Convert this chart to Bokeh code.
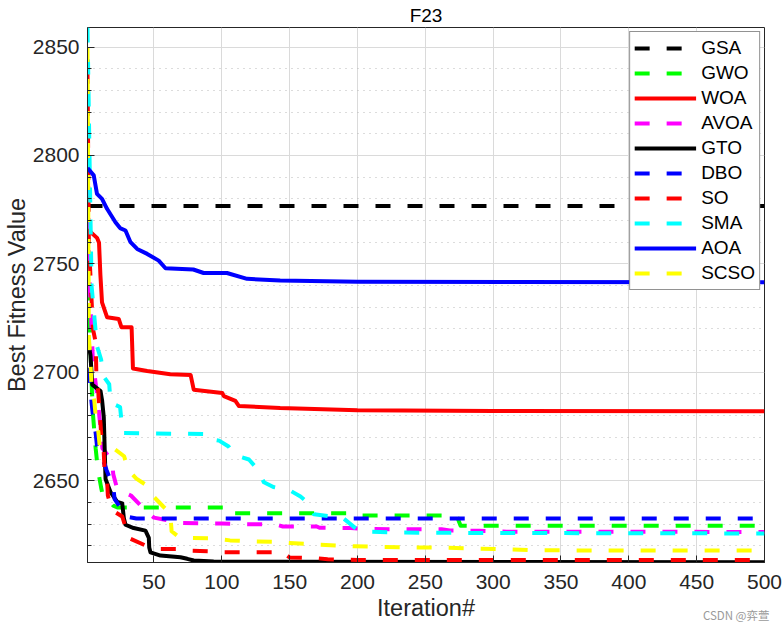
from bokeh.plotting import figure
from bokeh.models import SingleIntervalTicker, Range1d, Legend, LegendItem, Label
from bokeh.embed import file_html
from bokeh.resources import INLINE

# ---------------- data ----------------
gsa_it = [1, 500]
gsa_fit = [2776.7, 2776.7]

gwo_it = [1, 3, 4, 5, 7, 8, 9, 11, 12, 14, 20, 23, 108, 109, 200, 203, 273, 276, 500]
gwo_fit = [2740, 2716, 2695, 2681, 2665, 2659, 2654, 2647, 2644, 2643, 2638.5, 2637.7,
           2637.7, 2635, 2635, 2634, 2634, 2629.3, 2629.3]

woa_it = [1, 8, 9.5, 10.5, 11.7, 15.4, 24, 26, 33.5, 34.5, 45, 62, 77, 79.3, 100.3,
          101.5, 110, 112.5, 143, 200, 300, 500]
woa_fit = [2766, 2762, 2759.7, 2745, 2732.3, 2725.4, 2724.6, 2720.8, 2720.8, 2701.8,
           2700.6, 2699.1, 2698.8, 2692, 2690.5, 2689, 2686.8, 2684.5, 2683.5, 2682.5,
           2682.2, 2682]

avoa_it = [1, 2, 5, 8, 9, 10, 11, 12, 18, 19, 20, 23, 33, 40, 46, 50, 58, 68, 100, 115,
           140, 145, 170, 172, 195, 210, 262, 268, 290, 310, 500]
avoa_fit = [2830, 2750, 2705, 2690, 2684.5, 2678, 2672, 2665, 2660, 2659, 2653, 2646,
            2643.2, 2638.7, 2635, 2633, 2632, 2630.5, 2630.3, 2630, 2629.8, 2628.9, 2628.9,
            2628.3, 2628.2, 2627.7, 2627.6, 2627.1, 2626.9, 2626.5, 2626.4]

gto_it = [1, 3.2, 4.5, 10.6, 11.8, 13, 14.3, 18, 22.9, 26.6, 27.8, 29, 35, 43.7, 46.2,
          46.5, 47.4, 54.8, 69.5, 74.5, 79.3, 94, 143, 500]
gto_fit = [2716, 2707.8, 2694.3, 2691.3, 2686.8, 2679.3, 2650.8, 2644.7, 2640.2, 2639.5,
           2632.7, 2629.7, 2628.2, 2627, 2623.7, 2619.2, 2617, 2615.5, 2614.7, 2614,
           2613.2, 2612.8, 2612.6, 2612.4]

dbo_it = [1, 2, 4, 5, 7, 8, 14, 15, 20, 21, 27, 29, 37, 500]
dbo_fit = [2702, 2700, 2686, 2680, 2672, 2666, 2657, 2655, 2647, 2641.5, 2636, 2633.5,
           2632.6, 2632.6]

so_it = [1, 2, 5, 7, 7.5, 9, 9.5, 10.6, 11, 13, 13.5, 15.5, 16, 19, 26.6, 30, 31, 46,
         55, 68, 78, 92, 100, 145, 150, 170, 178, 200, 500]
so_fit = [2840, 2760, 2720, 2714, 2700, 2690.5, 2684.5, 2676.3, 2672, 2662.8, 2655.3,
          2649.2, 2643.2, 2636.5, 2633.5, 2626.7, 2623.7, 2619.5, 2618.5, 2618.5, 2617.7,
          2617.5, 2617, 2617, 2614.6, 2614.3, 2613.8, 2613.5, 2613.5]

sma_it = [1, 4, 8, 11, 13, 17, 18, 25, 27, 91, 93, 98, 105, 109, 120, 126, 131, 138,
          150, 158, 165, 168, 189, 199, 209, 233, 300, 500]
sma_fit = [2859, 2740, 2712, 2706, 2698, 2694.5, 2686, 2684, 2672, 2671.5, 2669, 2668.5,
           2665.8, 2662, 2659.8, 2655.5, 2649.3, 2647.1, 2645.6, 2642.7, 2639, 2634.5,
           2633, 2627.9, 2626.5, 2626.1, 2625.9, 2625.7]

aoa_it = [1, 5.6, 8, 11.7, 15.4, 21.6, 25, 29, 32.7, 37.6, 45, 53.5, 58.5, 79, 86.6,
          103.8, 118.6, 143, 200, 500]
aoa_fit = [2794.2, 2790.8, 2782.3, 2780, 2775.4, 2769.2, 2766.5, 2765.4, 2760, 2756.9,
           2754.6, 2751.5, 2748, 2747.4, 2745.8, 2745.8, 2743.1, 2742.3, 2741.8, 2741.5]

scso_it = [1, 2, 3, 3.5, 4, 6, 7, 9, 10, 20, 28, 31, 37, 45, 50, 57, 62, 63, 69, 93, 106,
           125, 140, 150, 172, 198, 220, 265, 290, 312, 335, 500]
scso_fit = [2850, 2716, 2708, 2700, 2693, 2687, 2680, 2672.5, 2666, 2665, 2661.3, 2655,
            2651, 2647.7, 2642.5, 2638, 2635, 2626.7, 2623.7, 2623.5, 2622.5, 2622, 2621.8,
            2621.3, 2620.5, 2619.8, 2619.4, 2619.1, 2618.7, 2618.4, 2617.9, 2617.8]

names = ["GSA", "GWO", "WOA", "AVOA", "GTO", "DBO", "SO", "SMA", "AOA", "SCSO"]
x_ticks_interval = 50
y_ticks_interval = 50
watermark = "CSDN @弈萱"

# ---------------- figure ----------------
FONT = "Liberation Sans"
AX = "#262626"

p = figure(frame_width=677, frame_height=535, output_backend="svg", toolbar_location=None,
           x_range=Range1d(1, 500), y_range=Range1d(2612.3, 2859),
           min_border_left=87, min_border_right=20, min_border_top=27, min_border_bottom=64,
           background_fill_color="white", border_fill_color="white",
           outline_line_color=AX, outline_line_width=1, outline_line_alpha=1.0)

p.title.text = "F23"
p.title.text_font = FONT
p.title.text_font_size = "19px"
p.title.text_font_style = "normal"
p.title.text_color = "#000000"
p.title.align = "center"
p.title.standoff = 4

series = [
    (gsa_it, gsa_fit, "#000000", "15 17"),
    (gwo_it, gwo_fit, "#00ff00", "15 17"),
    (woa_it, woa_fit, "#ff0000", "solid"),
    (avoa_it, avoa_fit, "#ff00ff", "15 17"),
    (gto_it, gto_fit, "#000000", "solid"),
    (dbo_it, dbo_fit, "#0000ff", "15 17"),
    (so_it, so_fit, "#ff0000", "15 17"),
    (sma_it, sma_fit, "#00ffff", "15 17"),
    (aoa_it, aoa_fit, "#0000ff", "solid"),
    (scso_it, scso_fit, "#ffff00", "15 17"),
]

items = []
for name, (xs, ys, col, dash) in zip(names, series):
    r = p.line(xs, ys, line_color=col, line_width=4, line_dash=dash, line_join="round")
    items.append(LegendItem(label=name, renderers=[r]))

xt = SingleIntervalTicker(interval=x_ticks_interval, num_minor_ticks=0)
yt = SingleIntervalTicker(interval=y_ticks_interval, num_minor_ticks=5)
p.xaxis.ticker = xt
p.yaxis.ticker = yt

for ax in (p.xaxis[0], p.yaxis[0]):
    ax.axis_line_color = AX
    ax.axis_line_width = 1
    ax.major_tick_line_color = AX
    ax.minor_tick_line_color = AX
    ax.major_tick_in = 7
    ax.major_tick_out = 0
    ax.minor_tick_in = 4
    ax.minor_tick_out = 0
    ax.major_label_text_font = FONT
    ax.major_label_text_color = AX
    ax.major_label_text_font_size = "21px"
    ax.axis_label_text_font = FONT
    ax.axis_label_text_color = AX
    ax.axis_label_text_font_style = "normal"
    ax.axis_label_text_font_size = "23.5px"

p.xaxis.axis_label = "Iteration#"
p.yaxis.axis_label = "Best Fitness Value"
p.xaxis.major_label_standoff = 12
p.yaxis.major_label_standoff = 8
p.xaxis.axis_label_standoff = 3
p.yaxis.axis_label_standoff = 0

# grids
p.xgrid.ticker = xt
p.ygrid.ticker = yt
p.xgrid.grid_line_color = "#dadada"
p.ygrid.grid_line_color = "#dadada"
p.ygrid.minor_grid_line_color = "#b8b8b8"
p.ygrid.minor_grid_line_dash = "1 5"
p.ygrid.minor_grid_line_width = 1

legend = Legend(items=items, location="top_right", margin=4,
                label_text_font=FONT, label_text_font_size="19px", label_text_color="#000000",
                glyph_width=62, glyph_height=24, label_height=24, label_standoff=5,
                spacing=1, padding=4,
                border_line_color=AX, border_line_width=1,
                background_fill_color="white", background_fill_alpha=1.0)
p.add_layout(legend)

# watermark text in the space below the frame
wm = Label(x=769, y=614, x_units="canvas", y_units="canvas", text=watermark,
           text_font="Noto Sans CJK SC", text_font_size="11.5px", text_color="#9a9a9a",
           text_align="right", text_baseline="alphabetic")
p.add_layout(wm, "below")

open("out.html", "w").write(file_html(p, INLINE))
